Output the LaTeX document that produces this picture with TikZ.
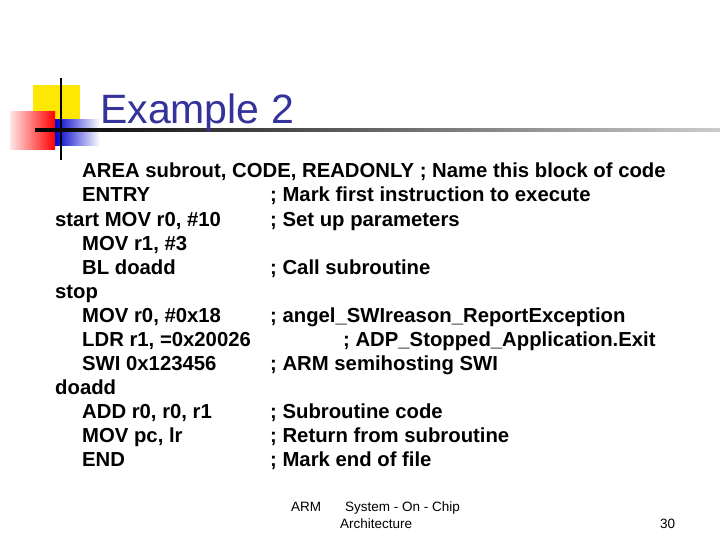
\documentclass[tikz,border=0pt]{standalone}
\usepackage{fontspec}
\setmainfont{Liberation Sans}
\definecolor{titleblue}{RGB}{51,51,153}
\begin{document}
\begin{tikzpicture}[x=1pt,y=-1pt]

\tikzstyle code=[anchor=base west, inner sep=0pt, font=\fontsize{20.3}{22}\selectfont\bfseries]
\tikzstyle foot=[anchor=base west, inner sep=0pt, font=\fontsize{13.5}{15}\selectfont]

\useasboundingbox (0,0) rectangle (720,540);
\fill[white] (0,0) rectangle (720,540);

% logo squares
\fill[yellow!90!orange] (33,85) rectangle (80,125);
\shade[left color=red!10, right color=red] (10,112) rectangle (55,150);
\shade[left color=blue!80!black, right color=white] (55,120) rectangle (100,146);
\draw[line width=2pt] (61,78) -- (61,160);
\shade[left color=black, right color=gray!40] (35,129) rectangle (720,131.5);

\node (title) [anchor=base west, inner sep=0pt, text=titleblue, font=\fontsize{41}{44}\selectfont] at (100,124) {Example 2};

\node (l1) [code] at (82,178) {AREA subrout, CODE, READONLY ; Name this block of code};
\node (l2) [code] at (82,202) {ENTRY};
\node (c2) [code] at (270,202) {; Mark first instruction to execute};
\node (l3) [code] at (55,226) {start MOV r0, \#10};
\node (c3) [code] at (270,226) {; Set up parameters};
\node (l4) [code] at (82,250) {MOV r1, \#3};
\node (l5) [code] at (82,274) {BL doadd};
\node (c5) [code] at (270,274) {; Call subroutine};
\node (l6) [code] at (55,298) {stop};
\node (l7) [code] at (82,322) {MOV r0, \#0x18};
\node (c7) [code] at (270,322) {; angel\_SWIreason\_ReportException};
\node (l8) [code] at (82,346) {LDR r1, =0x20026};
\node (c8) [code] at (343,346) {; ADP\_Stopped\_Application.Exit};
\node (l9) [code] at (82,370) {SWI 0x123456};
\node (c9) [code] at (270,370) {; ARM semihosting SWI};
\node (l10) [code] at (55,394) {doadd};
\node (l11) [code] at (82,418) {ADD r0, r0, r1};
\node (c11) [code] at (270,418) {; Subroutine code};
\node (l12) [code] at (82,442) {MOV pc, lr};
\node (c12) [code] at (270,442) {; Return from subroutine};
\node (l13) [code] at (82,466) {END};
\node (c13) [code] at (270,466) {; Mark end of file};

% footer
\node (arm) [foot] at (291,511) {ARM};
\node (soc) [foot] at (345,511) {System - On - Chip};
\node (arch) [foot] at (340,528) {Architecture};
\node (page) [foot] at (660,528) {30};

\end{tikzpicture}
\end{document}
